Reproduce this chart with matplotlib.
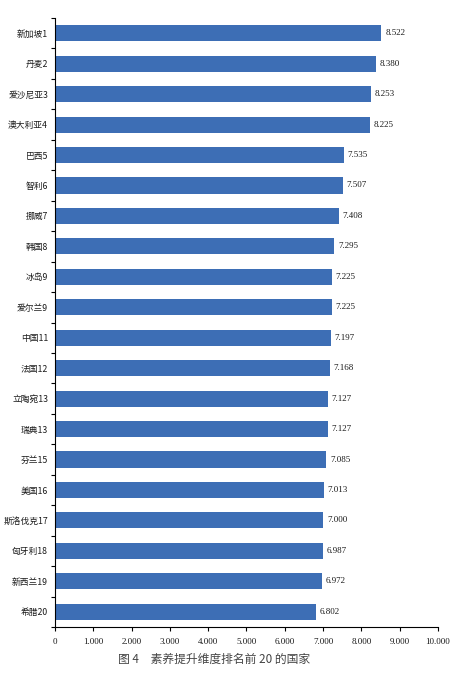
import numpy as np
import matplotlib
matplotlib.use('Agg')
import matplotlib.pyplot as plt

countries = ['新加坡1', '丹麦2', '爱沙尼亚3', '澳大利亚4', '巴西5', '智利6', '挪威7',
             '韩国8', '冰岛9', '爱尔兰9', '中国11', '法国12', '立陶宛13', '瑞典13',
             '芬兰15', '美国16', '斯洛伐克17', '匈牙利18', '新西兰19', '希腊20']
scores = [8.522, 8.380, 8.253, 8.225, 7.535, 7.507, 7.408, 7.295, 7.225, 7.225,
          7.197, 7.168, 7.127, 7.127, 7.085, 7.013, 7.000, 6.987, 6.972, 6.802]
xticks = np.arange(0, 11, 1)
xlabels = ['0'] + ['%d.000' % v for v in xticks[1:]]

plt.rcParams['font.family'] = ['Noto Sans CJK SC', 'DejaVu Sans']

fig = plt.figure(figsize=(4.56, 6.88), dpi=100)
ax = fig.add_axes([0.1206, 0.0887, 0.8399, 0.8851])

y = np.arange(len(countries))
ax.barh(y, scores, height=0.53, color='#3D6EB5')
for yi, v in zip(y, scores):
    ax.text(v + 0.1, yi, '%.3f' % v, va='center', ha='left', fontsize=6.5,
            family='Liberation Serif', color='#1a1a1a')

ax.set_ylim(len(countries) - 0.5, -0.5)
ax.set_xlim(0, 10)
ax.set_yticks(y)
ax.set_yticklabels(countries, fontsize=6.3, color='#1a1a1a')
ax.tick_params(axis='y', which='major', length=0, pad=5)
ax.set_yticks(np.arange(-0.5, len(countries), 1), minor=True)
ax.tick_params(axis='y', which='minor', length=3, width=0.8)
ax.set_xticks(xticks)
ax.set_xticklabels(xlabels, fontsize=6.5, family='Liberation Serif', color='#1a1a1a')
ax.tick_params(axis='x', length=3, width=0.8, pad=5)

for s in ['top', 'right']:
    ax.spines[s].set_visible(False)
for s in ['left', 'bottom']:
    ax.spines[s].set_linewidth(0.8)

fig.text(0.47, 0.041, '图 4　素养提升维度排名前 20 的国家', ha='center', va='center',
         fontsize=8.5, color='#444444')

fig.savefig('out.png', dpi=100)
